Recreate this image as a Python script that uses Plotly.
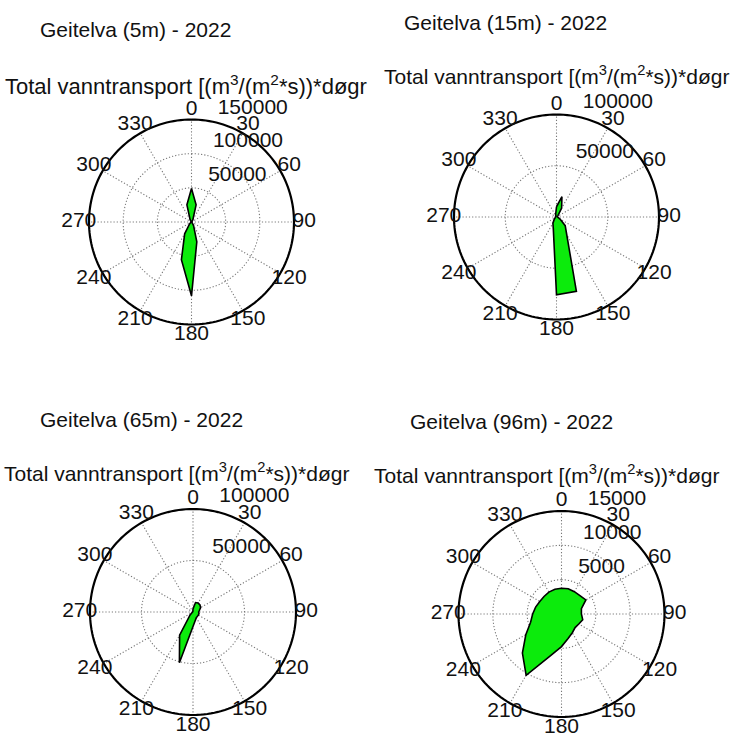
import plotly.graph_objects as go

# Direction bins (degrees, clockwise from north)
directions = list(range(0, 360, 15))

# Total water transport per direction bin for each depth
transport_5m = [49000, 26000, 4000, 1000, 500, 500, 500, 500, 500, 1000, 6000, 30000,
                108000, 57000, 20000, 4000, 1000, 500, 500, 500, 500, 1000, 4000, 26000]
transport_15m = [10000, 20500, 10000, 2000, 1000, 1000, 1000, 1500, 4000, 12000, 20000, 75000,
                 76000, 12000, 7000, 3000, 1500, 1000, 1000, 1000, 1000, 1000, 1500, 3000]
transport_65m = [3000, 9500, 10000, 9600, 8500, 6500, 5500, 6000, 6000, 6000, 6400, 8500,
                 14000, 51000, 26000, 4000, 1000, 500, 500, 500, 500, 500, 500, 500]
transport_96m = [3750, 3800, 3750, 3800, 4100, 3000, 2900, 3200, 2900, 2800, 3150, 3700,
                 4750, 6320, 10300, 8050, 6000, 4660, 4200, 3900, 3650, 3600, 3680, 3720]

series = [transport_5m, transport_15m, transport_65m, transport_96m]
titles = ["Geitelva (5m) - 2022", "Geitelva (15m) - 2022",
          "Geitelva (65m) - 2022", "Geitelva (96m) - 2022"]
subtitle = "Total vanntransport [(m<sup>3</sup>/(m<sup>2</sup>*s))*døgr"

# Outer ring value and ring spacing per panel
r_max = [150000, 100000, 100000, 15000]
r_step = [50000, 50000, 50000, 5000]

angle_ticks = list(range(0, 360, 30))

W, H = 732, 733
FONT = "Liberation Sans, Arial, sans-serif"
TXT = "#111111"
FS = 21
GRID = "rgb(120,120,120)"
GRID_DASH = "1.2px,2px"
EXT = 1.14  # radial axis extends past the outer ring so the labels fit

# Circle centre / radius in pixels and title positions for each panel
panels = [
    dict(cx=191.5, cy=222, R=102.5, tx=38, ty=30, sx=3, sy=85, sfs=22),
    dict(cx=556.5, cy=217, R=102.5, tx=402, ty=23, sx=382, sy=75, sfs=21),
    dict(cx=193, cy=612, R=103, tx=38, ty=419, sx=2, sy=472, sfs=21),
    dict(cx=561.5, cy=614, R=103, tx=408, ty=421, sx=372, sy=474, sfs=21),
]

fig = go.Figure()
layout_polars = {}
annotations = []

for i, (vals, p) in enumerate(zip(series, panels)):
    key = "polar" if i == 0 else f"polar{i + 1}"
    rm, st = r_max[i], r_step[i]
    ticks = list(range(st, rm + 1, st))

    # dotted spokes every 30 degrees
    sr, sth = [], []
    for a in angle_ticks:
        sr += [0, rm, None]
        sth += [a, a, None]
    fig.add_trace(go.Scatterpolar(
        r=sr, theta=sth, mode="lines", line=dict(color=GRID, width=1.1, dash=GRID_DASH),
        connectgaps=False, subplot=key, showlegend=False, hoverinfo="skip"))

    # dotted inner rings
    ring_theta = list(range(0, 361, 2))
    for t in ticks[:-1]:
        fig.add_trace(go.Scatterpolar(
            r=[t] * len(ring_theta), theta=ring_theta, mode="lines",
            line=dict(color=GRID, width=1.1, dash=GRID_DASH),
            subplot=key, showlegend=False, hoverinfo="skip"))

    # transport rose
    theta = directions + [directions[0]]
    rr = vals + [vals[0]]
    fig.add_trace(go.Scatterpolar(
        r=rr, theta=theta, mode="lines", fill="toself",
        fillcolor="rgb(12,235,12)", line=dict(color="black", width=1.6),
        subplot=key, showlegend=False, hoverinfo="skip"))

    # solid outer ring
    fig.add_trace(go.Scatterpolar(
        r=[rm] * len(ring_theta), theta=ring_theta, mode="lines",
        line=dict(color="black", width=2.2),
        subplot=key, showlegend=False, hoverinfo="skip"))

    # angle labels at 1.1 x outer radius
    fig.add_trace(go.Scatterpolar(
        r=[1.1 * rm] * len(angle_ticks), theta=angle_ticks,
        text=[str(a) for a in angle_ticks], mode="text",
        textposition="middle center",
        textfont=dict(family=FONT, size=FS, color=TXT),
        cliponaxis=False, subplot=key, showlegend=False, hoverinfo="skip"))

    # ring value labels
    fig.add_trace(go.Scatterpolar(
        r=[t + st / 20 for t in ticks], theta=[8] * len(ticks),
        text=["\u00a0\u00a0" + str(t) for t in ticks], mode="text",
        textposition="top right",
        textfont=dict(family=FONT, size=FS, color=TXT),
        cliponaxis=False, subplot=key, showlegend=False, hoverinfo="skip"))

    Re = p["R"] * EXT
    layout_polars[key] = dict(
        domain=dict(x=[(p["cx"] - Re) / W, (p["cx"] + Re) / W],
                    y=[1 - (p["cy"] + Re) / H, 1 - (p["cy"] - Re) / H]),
        bgcolor="rgba(0,0,0,0)",
        radialaxis=dict(range=[0, rm * EXT], visible=False, showgrid=False,
                        showline=False, showticklabels=False, ticks=""),
        angularaxis=dict(direction="clockwise", rotation=90, visible=False,
                         showgrid=False, showline=False, showticklabels=False, ticks=""),
    )

    annotations.append(dict(text=titles[i], x=p["tx"] / W, y=1 - p["ty"] / H,
                            xref="paper", yref="paper", xanchor="left", yanchor="middle",
                            showarrow=False, font=dict(family=FONT, size=FS, color=TXT)))
    annotations.append(dict(text=subtitle, x=p["sx"] / W, y=1 - p["sy"] / H,
                            xref="paper", yref="paper", xanchor="left", yanchor="middle",
                            showarrow=False, font=dict(family=FONT, size=p["sfs"], color=TXT)))

fig.update_layout(
    width=W, height=H, margin=dict(l=0, r=0, t=0, b=0),
    paper_bgcolor="white", plot_bgcolor="white",
    annotations=annotations, **layout_polars)

fig.write_html("out.html")
